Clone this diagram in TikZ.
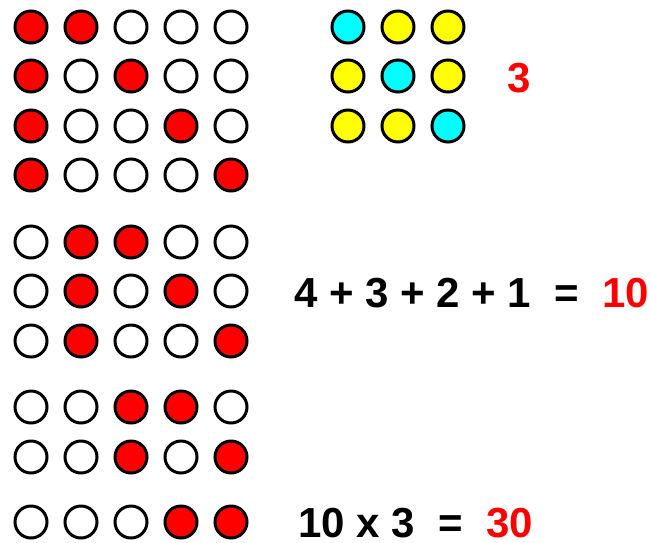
\documentclass[tikz,border=0pt]{standalone}
\usepackage{fontspec}
\setmainfont{Liberation Sans}
\usepackage{xcolor}
\definecolor{dotred}{RGB}{255,0,0}
\definecolor{dotcyan}{RGB}{0,255,255}
\definecolor{dotyellow}{RGB}{255,255,0}
\usepackage{tikz}

\begin{document}
\begin{tikzpicture}[x=1pt, y=-1pt,
  dot/.style={circle, draw=black, line width=3pt, minimum size=32pt, inner sep=0pt},
  sumtext/.style={anchor=base west, inner sep=0pt, font=\fontsize{42}{50}\selectfont\bfseries}
]
\useasboundingbox (0,0) rectangle (651,542);

% red / white rows, two red dots per row
\foreach \r/\yy/\a/\b in {1/27/1/2, 2/76/1/3, 3/126/1/4, 4/175/1/5,
    5/242/2/3, 6/291/2/4, 7/341/2/5, 8/407/3/4, 9/457/3/5, 10/522/4/5}{
  \foreach \c in {1,...,5}{
    \pgfmathsetmacro\xx{31+50*(\c-1)}
    \ifnum\c=\a \def\fc{dotred}\else\ifnum\c=\b \def\fc{dotred}\else\def\fc{white}\fi\fi
    \node[dot, fill=\fc] (d-\r-\c) at (\xx,\yy) {};
  }
}

% small square of yellow with cyan diagonal
\foreach \r/\yy in {1/27, 2/76, 3/126}{
  \foreach \c in {1,2,3}{
    \pgfmathsetmacro\xx{348+50*(\c-1)}
    \ifnum\c=\r \def\fc{dotcyan}\else\def\fc{dotyellow}\fi
    \node[dot, fill=\fc] (g-\r-\c) at (\xx,\yy) {};
  }
}

\node[sumtext, text=dotred] (three) at (507,92) {3};
\node[sumtext] (sum) at (294,307) {4 + 3 + 2 + 1~~=~~\textcolor{dotred}{10}};
\node[sumtext] (prod) at (298,537) {10 x 3~~=~~\textcolor{dotred}{30}};
\end{tikzpicture}
\end{document}
